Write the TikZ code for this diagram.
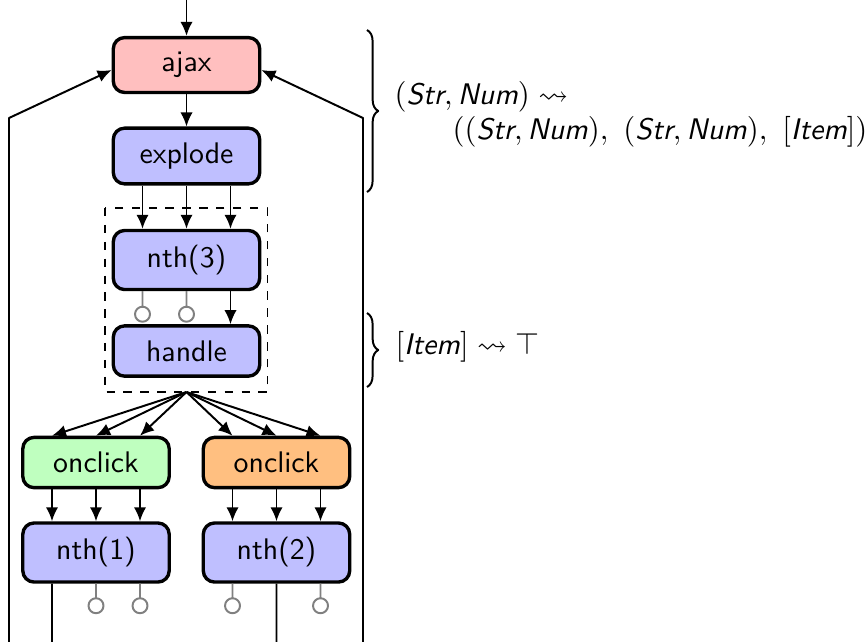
\documentclass[tikz,border=0pt]{standalone}
\usepackage{amssymb}
\usetikzlibrary{calc,arrows.meta,decorations.pathreplacing}
\tikzset{
	stage/.style={draw, line width=1.2pt, rounded corners=4pt, minimum width=18.3mm, inner ysep=5.2pt},
	flow/.style={-{Latex[length=5pt,width=4.4pt]}, line width=0.7pt},
	stub/.style={gray, line width=0.7pt},
	sig/.style={anchor=west, inner sep=0pt},
	typebrace/.style={decorate, decoration={brace, amplitude=4pt}, line width=0.7pt}
}
\begin{document}
\begin{tikzpicture}[x=1.25mm, y=-1.25mm, line join=round, font=\fontsize{10.6}{12.5}\selectfont\sffamily]
			\useasboundingbox (0,0) rectangle (86.5,64.1);
			% stages
			\node[stage, fill=red!25] (ajax) at (18.65,6.5) {ajax};
			\node[stage, fill=blue!25] (explode) at (18.65,15.6) {explode};
			\node[stage, fill=blue!25] (nth3) at (18.65,26.0) {nth(3)};
			\node[stage, fill=blue!25] (handle) at (18.65,35.1) {handle};
			\node[stage, fill=green!25] (click1) at (9.6,46.25) {onclick};
			\node[stage, fill=orange!50] (click2) at (27.65,46.25) {onclick};
			\node[stage, fill=blue!25] (nth1) at (9.6,55.25) {nth(1)};
			\node[stage, fill=blue!25] (nth2) at (27.65,55.25) {nth(2)};
			\coordinate (in) at (18.65,0);
			\coordinate (fan) at (18.65,39.2);
			\draw[dashed, line width=0.7pt] (10.5,20.8) rectangle (fan -| 26.75,0);
			% wires
			\draw[flow] (in) -- (ajax);
			\draw[flow] (ajax) -- (explode);
			\foreach \d in {-4.4,0,4.4}
				\draw[flow] ($(explode.south)+(\d,0)$) -- ($(nth3.north)+(\d,0)$);
			\draw[flow] ($(nth3.south)+(4.4,0)$) -- ($(handle.north)+(4.4,0)$);
			\foreach \d in {-4.4,0}
				\draw[stub] ($(nth3.south)+(\d,0)$) -- ++(0,1.55) ++(0,0.75) circle[radius=0.75];
			\foreach \n in {click1,click2}
				\foreach \d in {-4.4,0,4.4}
					\draw[flow] (fan) -- ($(\n.north)+(\d,0)$);
			\foreach \d in {-4.4,0,4.4} {
				\draw[flow] ($(click1.south)+(\d,0)$) -- ($(nth1.north)+(\d,0)$);
				\draw[flow] ($(click2.south)+(\d,0)$) -- ($(nth2.north)+(\d,0)$);
			}
			\foreach \d in {0,4.4}
				\draw[stub] ($(nth1.south)+(\d,0)$) -- ++(0,1.45) ++(0,0.75) circle[radius=0.75];
			\foreach \d in {-4.4,4.4}
				\draw[stub] ($(nth2.south)+(\d,0)$) -- ++(0,1.45) ++(0,0.75) circle[radius=0.75];
			% feedback
			\draw[flow] ($(nth1.south)+(-4.4,0)$) |- (0.9,66) -- (0.9,11.8) -- ($(ajax.west)+(0,0.5)$);
			\draw[flow] (nth2.south) |- (36.3,66) -- (36.3,11.8) -- ($(ajax.east)+(0,0.5)$);
			% types
			\draw[typebrace] (36.7,3.0) -- (36.7,19.2);
			\draw[typebrace] (36.7,31.3) -- (36.7,38.7);
			\node[sig] (t1) at (39.4,9.7) {$(\textit{Str}, \textit{Num}) \leadsto$};
			\node[sig] (t2) at (45.2,13.15) {$((\textit{Str}, \textit{Num}),\ (\textit{Str}, \textit{Num}),\ [\textit{Item}])$};
			\node[sig] (t3) at (39.5,34.7) {$[\textit{Item}] \leadsto \top$};
\end{tikzpicture}
\end{document}
